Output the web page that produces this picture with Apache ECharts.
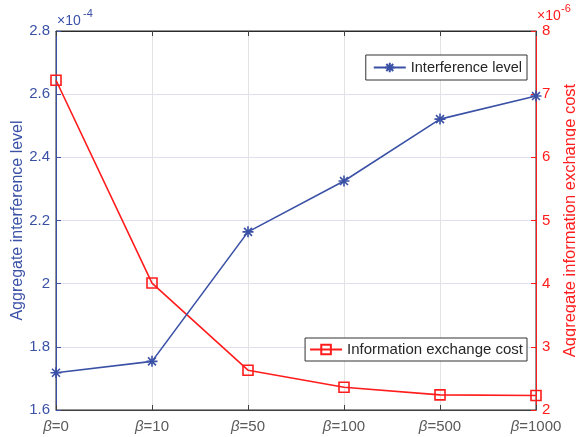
<!DOCTYPE html>
<html>
<head>
<meta charset="utf-8">
<script src="https://cdn.jsdelivr.net/npm/echarts@6.0.0/dist/echarts.min.js"></script>
<style>
  html, body { margin: 0; padding: 0; background: #ffffff; }
  #chart { width: 576px; height: 437px; }
</style>
</head>
<body>
<div id="chart"></div>
<script>
// beta values on the horizontal axis
const categories = ['0', '10', '50', '100', '500', '1000'];
// aggregate interference level, in units of 1e-4
const interference = [1.718, 1.754, 2.164, 2.325, 2.521, 2.594];
// aggregate information exchange cost, in units of 1e-6
const exchangeCost = [7.22, 4.01, 2.63, 2.36, 2.24, 2.23];
// axis ranges
const leftRange = [1.6, 2.8, 0.2];
const rightRange = [2, 8, 1];
const seriesNames = ['Interference level', 'Information exchange cost'];

const FONT = '"Liberation Sans", Arial, Helvetica, sans-serif';
const BLUE = '#3a51a6';
const RED = '#ff1c1c';
const GRAY = '#5a5a5a';

const asterisk = 'path://M0,-10L0,10M-10,0L10,0M-7.2,-7.2L7.2,7.2M-7.2,7.2L7.2,-7.2';

const chart = echarts.init(document.getElementById('chart'), null, { renderer: 'canvas' });

chart.setOption({
  animation: false,
  backgroundColor: '#ffffff',
  textStyle: { fontFamily: FONT },
  grid: {
    left: 56, right: 40, top: 31, bottom: 27,
    containLabel: false,
    outerBoundsMode: 'none',
    show: true, borderColor: '#2b2b2b', borderWidth: 1
  },
  legend: [
    {
      data: [seriesNames[0]],
      right: 49, top: 55,
      orient: 'vertical',
      padding: [5, 5, 5, 7],
      itemWidth: 32, itemHeight: 12, itemGap: 5,
      backgroundColor: '#ffffff',
      borderColor: '#333333', borderWidth: 1, borderRadius: 0,
      textStyle: { fontSize: 14.5, color: '#262626', fontFamily: FONT }
    },
    {
      data: [seriesNames[1]],
      right: 49, top: 338,
      orient: 'vertical',
      padding: [4, 4, 4, 4],
      itemWidth: 32, itemHeight: 12, itemGap: 5,
      backgroundColor: '#ffffff',
      borderColor: '#333333', borderWidth: 1, borderRadius: 0,
      textStyle: { fontSize: 15, color: '#262626', fontFamily: FONT }
    }
  ],
  xAxis: [
    {
      type: 'category',
      data: categories,
      boundaryGap: false,
      axisLine: { lineStyle: { color: '#404040', width: 1 } },
      axisTick: { inside: true, length: 5, interval: 0, lineStyle: { color: '#404040' } },
      axisLabel: {
        interval: 0,
        hideOverlap: false,
        margin: 9,
        fontSize: 15,
        color: GRAY,
        fontFamily: FONT,
        formatter: v => '{b|β}=' + v,
        rich: { b: { fontStyle: 'italic', fontSize: 15, color: GRAY, fontFamily: FONT } }
      },
      splitLine: { show: true, interval: 0, lineStyle: { color: '#e3e3e3', width: 1 } }
    },
    {
      type: 'category',
      data: categories,
      boundaryGap: false,
      position: 'top',
      axisLine: { lineStyle: { color: '#2b2b2b', width: 1 } },
      axisTick: { inside: true, length: 5, interval: 0, lineStyle: { color: '#404040' } },
      axisLabel: { show: false },
      splitLine: { show: false }
    }
  ],
  yAxis: [
    {
      type: 'value',
      min: leftRange[0], max: leftRange[1], interval: leftRange[2],
      position: 'left',
      name: 'Aggregate interference level',
      nameLocation: 'middle',
      nameGap: 30,
      nameMoveOverlap: false,
      nameTextStyle: { fontSize: 16, color: BLUE, fontFamily: FONT },
      axisLine: { show: true, lineStyle: { color: BLUE, width: 1 } },
      axisTick: { show: true, inside: true, length: 5, lineStyle: { color: BLUE } },
      axisLabel: {
        margin: 6,
        fontSize: 15,
        color: BLUE,
        fontFamily: FONT,
        formatter: v => String(+v.toFixed(1))
      },
      splitLine: { show: true, lineStyle: { color: '#dfdff0', width: 1 } }
    },
    {
      type: 'value',
      min: rightRange[0], max: rightRange[1], interval: rightRange[2],
      position: 'right',
      name: 'Aggregate information exchange cost',
      nameLocation: 'middle',
      nameGap: 26,
      nameRotate: 90,
      nameTextStyle: { fontSize: 16.5, color: RED, fontFamily: FONT },
      axisLine: { show: true, lineStyle: { color: RED, width: 1 } },
      axisTick: { show: true, inside: true, length: 5, lineStyle: { color: RED } },
      axisLabel: { margin: 6, fontSize: 15, color: RED, fontFamily: FONT },
      splitLine: { show: false }
    }
  ],
  series: [
    {
      name: seriesNames[0],
      type: 'line',
      xAxisIndex: 0,
      yAxisIndex: 0,
      data: interference,
      symbol: asterisk,
      symbolSize: 11,
      showAllSymbol: true,
      lineStyle: { color: BLUE, width: 1.6 },
      itemStyle: { color: BLUE, borderColor: BLUE, borderWidth: 1.6 },
      z: 3
    },
    {
      name: seriesNames[1],
      type: 'line',
      xAxisIndex: 0,
      yAxisIndex: 1,
      data: exchangeCost,
      symbol: 'rect',
      symbolSize: 10,
      showAllSymbol: true,
      lineStyle: { color: RED, width: 1.6 },
      itemStyle: { color: 'rgba(255,255,255,0)', borderColor: RED, borderWidth: 1.6 },
      z: 2
    }
  ],
  graphic: [
    { type: 'text', x: 57, y: 28, style: { text: '×10', fill: BLUE, font: '14px ' + FONT, textAlign: 'left', textVerticalAlign: 'bottom' } },
    { type: 'text', x: 83, y: 19, style: { text: '-4', fill: BLUE, font: '11px ' + FONT, textAlign: 'left', textVerticalAlign: 'bottom' } },
    { type: 'text', x: 537, y: 23, style: { text: '×10', fill: RED, font: '14px ' + FONT, textAlign: 'left', textVerticalAlign: 'bottom' } },
    { type: 'text', x: 561, y: 14, style: { text: '-6', fill: RED, font: '11px ' + FONT, textAlign: 'left', textVerticalAlign: 'bottom' } }
  ]
});
</script>
</body>
</html>
